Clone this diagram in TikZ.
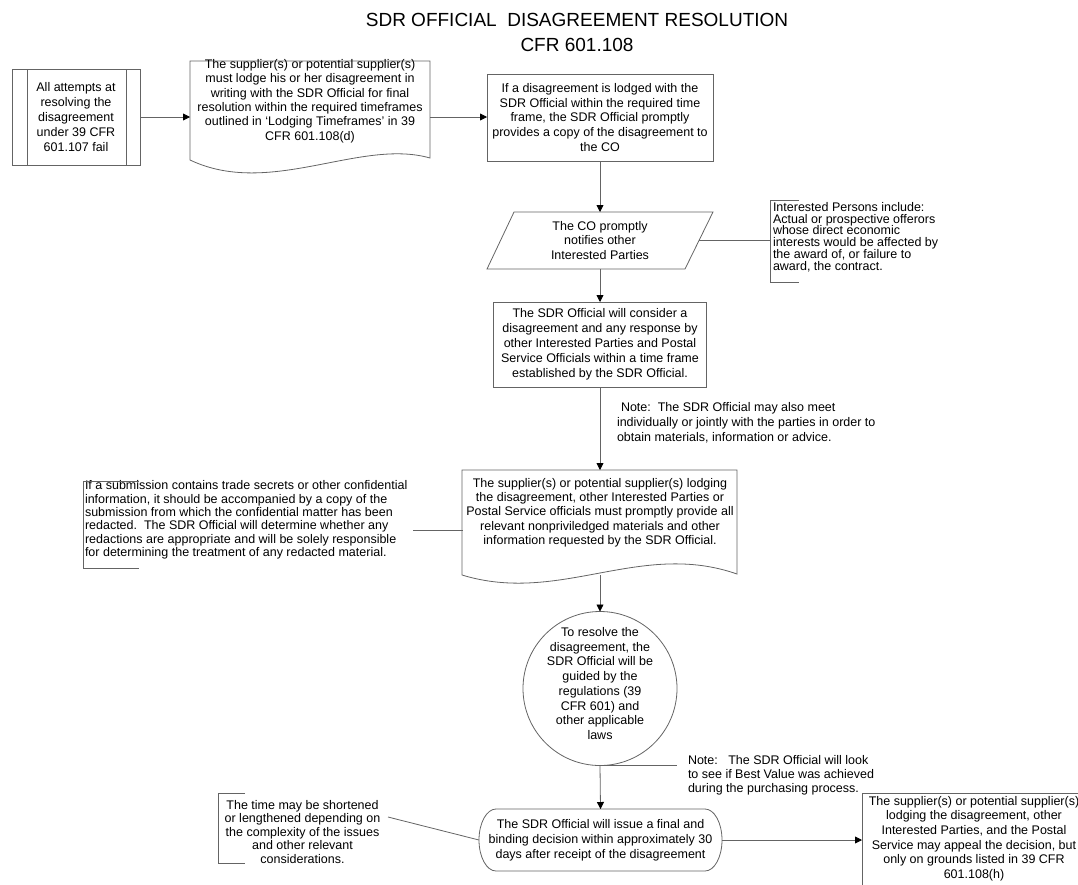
\documentclass[tikz,border=0pt]{standalone}
\usepackage{fontspec}
\setmainfont{Liberation Sans}
\usetikzlibrary{arrows.meta}
\definecolor{linec}{RGB}{100,100,100}
\newcommand\tightA{\fontsize{12.5}{11.8}\selectfont}
\newcommand\tightB{\fontsize{12.5}{14}\selectfont}
\tikzset{
  every node/.style={inner sep=0pt, outer sep=0pt},
  shapebox/.style={draw=linec, line width=0.8pt},
  txt/.style={align=center, font=\fontsize{12.5}{15}\selectfont},
  notetxt/.style={align=left, anchor=west},
  conn/.style={draw=linec, line width=0.8pt},
  arr/.style={conn, -{Triangle[length=7pt,width=7pt,color=black]}},
  bracket/.style={draw=linec, line width=0.8pt},
}
\begin{document}
\lineskiplimit=-8pt
\begin{tikzpicture}[x=1pt,y=-1pt]
\useasboundingbox (0,0) rectangle (1078,884);
\clip (0,0) rectangle (1078,884);

% title
\node[align=center, font=\fontsize{19}{25}\selectfont] (title) at (577,32.5)
  {SDR OFFICIAL\ \ DISAGREEMENT RESOLUTION\\CFR 601.108};

% A: predefined process
\node[shapebox, txt, minimum width=128pt, minimum height=96pt] (A) at (76,117)
  {All attempts at\\resolving the\\disagreement\\under 39 CFR\\601.107 fail};
\draw[shapebox] ([xshift=15pt]A.north west) -- ([xshift=15pt]A.south west);
\draw[shapebox] ([xshift=-14pt]A.north east) -- ([xshift=-14pt]A.south east);

% B: document
\node[minimum width=240pt, minimum height=97pt] (B) at (310,109.5) {};
\draw[shapebox] (190,61) -- (430,61) -- (430,158)
  .. controls (360,138) and (270,198) .. (190,160) -- cycle;
\node[txt, font=\fontsize{12.5}{14.4}\selectfont] (Bt) at (310,101)
  {The supplier(s) or potential supplier(s)\\must lodge his or her disagreement in\\writing with the SDR Official for final\\resolution within the required timeframes\\outlined in ‘Lodging Timeframes’ in 39\\CFR 601.108(d)};

% C
\node[shapebox, txt, minimum width=226pt, minimum height=87pt, font=\fontsize{12.5}{14.75}\selectfont] (C) at (600,117.5)
  {If a disagreement is lodged with the\\SDR Official within the required time\\frame, the SDR Official promptly\\provides a copy of the disagreement to\\the CO};

\draw[arr] (A.east) -- (A.east -| B.west);
\draw[arr] (A.east -| B.east) -- (A.east -| C.west);

% D: parallelogram
\node[txt, minimum width=226pt, minimum height=57pt, font=\fontsize{12.5}{14.5}\selectfont] (D) at (600,240.5)
  {The CO promptly\\notifies other\\Interested Parties};
\draw[shapebox] (514,212) -- (713,212) -- (685,269) -- (487,269) -- cycle;
\draw[arr] (C.south) -- (D.north);

% note: interested persons
\node[notetxt, font=\tightA] (N1) at (773,237)
  {Interested Persons include:\\Actual or prospective offerors\\whose direct economic\\interests would be affected by\\the award of, or failure to\\award, the contract.};
\draw[bracket] (799,200) -- (770,200) -- (770,282) -- (799,282);
\coordinate (N1c) at (770,240.5);
\draw[conn] ([xshift=-14pt]D.east) -- (N1c);

% E
\node[shapebox, txt, minimum width=213pt, minimum height=85pt] (E) at (600,344.5)
  {The SDR Official will consider a\\disagreement and any response by\\other Interested Parties and Postal\\Service Officials within a time frame\\established by the SDR Official.};
\draw[arr] (D.south) -- (E.north);

% note 2
\node[notetxt, font=\fontsize{12.5}{15}\selectfont] (N2) at (617,423)
  {\hspace{4pt}Note:\ \ The SDR Official may also meet\\individually or jointly with the parties in order to\\obtain materials, information or advice.};

% F: document
\node[minimum width=275pt, minimum height=105pt] (F) at (600,522.5) {};
\draw[shapebox] (462,470) -- (737,470) -- (737,574)
  .. controls (640,540) and (560,605) .. (462,575) -- cycle;
\node[txt, font=\fontsize{12.5}{14.3}\selectfont] (Ft) at (600,512.5)
  {The supplier(s) or potential supplier(s) lodging\\the disagreement, other Interested Parties or\\Postal Service officials must promptly provide all\\relevant nonpriviledged materials and other\\information requested by the SDR Official.};
\draw[arr] (E.south) -- (F.north);

% note 3: redaction
\node[notetxt, font=\fontsize{12.5}{13.4}\selectfont] (N3) at (85,520)
  {If a submission contains trade secrets or other confidential\\information, it should be accompanied by a copy of the\\submission from which the confidential matter has been\\redacted.\ \ The SDR Official will determine whether any\\redactions are appropriate and will be solely responsible\\for determining the treatment of any redacted material.};
\draw[bracket] (139,481) -- (83,481) -- (83,568) -- (139,568);
\coordinate (N3c) at (413,530);
\draw[conn] (N3c) -- (N3c -| F.west);

% G: circle
\node[shapebox, circle, minimum size=154pt] (G) at (600,688.5) {};
\node[txt, font=\fontsize{12.5}{14.7}\selectfont] (Gt) at (600,683.5)
  {To resolve the\\disagreement, the\\SDR Official will be\\guided by the\\regulations (39\\CFR 601) and\\other applicable\\laws};
\draw[arr] (F.south) -- (G.north);

% note 4: best value
\node[notetxt, font=\tightB] (N4) at (688,775)
  {Note:\ \ \ The SDR Official will look\\to see if Best Value was achieved\\during the purchasing process.};
\coordinate (N4c) at (677,765.5);
\draw[conn] (G.south) -- (N4c);

% H: terminator
\node[txt, minimum width=243pt, minimum height=62pt] (H) at (600.5,840)
  {The SDR Official will issue a final and\\binding decision within approximately 30\\days after receipt of the disagreement};
\draw[shapebox] ([xshift=17pt]H.north west) -- ([xshift=-17pt]H.north east)
  arc[start angle=90, end angle=-90, x radius=17pt, y radius=31pt]
  -- ([xshift=17pt]H.south west)
  arc[start angle=270, end angle=90, x radius=17pt, y radius=31pt] -- cycle;
\draw[arr] (G.south) -- (H.north);

% note 5: time
\node[align=center, font=\fontsize{12.5}{13.5}\selectfont] (N5) at (302.5,832)
  {The time may be shortened\\or lengthened depending on\\the complexity of the issues\\and other relevant\\considerations.};
\draw[bracket] (245,793) -- (218,793) -- (218,863) -- (245,863);
\coordinate (N5c) at (388,817);
\draw[conn] (N5c) -- (H.west);

% I: appeal box
\node[shapebox, minimum width=228pt, minimum height=120pt, anchor=north west] (I) at (862,793) {};
\node[txt, font=\fontsize{12.5}{14.6}\selectfont] (It) at (974,838.5)
  {The supplier(s) or potential supplier(s)\\lodging the disagreement, other\\Interested Parties, and the Postal\\Service may appeal the decision, but\\only on grounds listed in 39 CFR\\601.108(h)};
\draw[arr] (H.east) -- (H.east -| I.west);
\end{tikzpicture}
\end{document}
